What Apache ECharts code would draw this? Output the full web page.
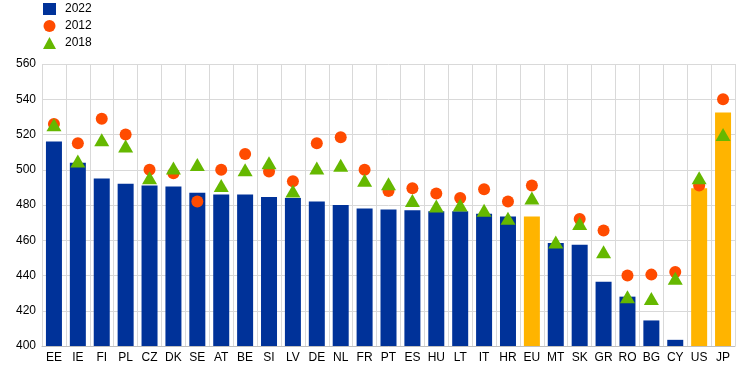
<!DOCTYPE html>
<html><head><meta charset="utf-8">
<script src="https://cdn.jsdelivr.net/npm/echarts@6/dist/echarts.min.js"></script>
<style>html,body{margin:0;padding:0;background:#fff}#c{width:744px;height:373px}</style>
</head><body><div id="c"></div>
<script>
var categories = ['EE','IE','FI','PL','CZ','DK','SE','AT','BE','SI','LV','DE','NL','FR','PT','ES','HU','LT','IT','HR','EU','MT','SK','GR','RO','BG','CY','US','JP'];
var v2022 = [516,504,495,492,491,490.5,487,486,486,484.5,484,482,480,478,477.5,477,476.5,476.5,475,473.5,473.5,458.5,457.5,436.5,428,414.5,403.5,489.5,532.5];
var v2012 = [526,515,529,520,500,498,482,500,509,499,493.5,515,518.5,500,488,489.5,486.5,484,489,482,491,null,472,465.5,440,440.5,442,491,540];
var v2018 = [525.5,505,517,513.5,495.5,501,503,491,500,504,488,501,502.5,494,492,482.5,479.5,480,477,472.5,484,459,469.5,453.5,428,427,438.5,495.5,520];
var highlight = ['EU','US','JP'];
var yTicks = {min:400, max:560, interval:20};

var blue='#003299', orange='#FF4B00', green='#65B800', yellow='#FFB400';
var barData = v2022.map(function(v,i){
  return {value:v, itemStyle:{color: highlight.indexOf(categories[i])>=0 ? yellow : blue}};
});
var chart = echarts.init(document.getElementById('c'), null, {renderer:'canvas'});
var font = 'Arial, "Liberation Sans", sans-serif';
chart.setOption({
  animation:false,
  textStyle:{fontFamily:font},
  legend:{
    orient:'vertical', left:38, top:-2, itemGap:5, itemWidth:13, itemHeight:12,
    textStyle:{fontSize:12, color:'#000', fontFamily:font, padding:[0,0,0,4]},
    data:[{name:'2022', icon:'rect'},{name:'2012', icon:'circle'},{name:'2018', icon:'triangle'}]
  },
  grid:{left:42, right:9, top:64, bottom:27},
  xAxis:{
    type:'category', data:categories, boundaryGap:true,
    axisLine:{lineStyle:{color:'#bfbfbf'}},
    axisTick:{show:false},
    axisLabel:{color:'#000', fontSize:12, fontFamily:font, interval:0, margin:6},
    splitLine:{show:true, interval:0, lineStyle:{color:'#d9d9d9'}}
  },
  yAxis:{
    type:'value', min:yTicks.min, max:yTicks.max, interval:yTicks.interval,
    axisLine:{show:false}, axisTick:{show:false},
    axisLabel:{color:'#000', fontSize:12, fontFamily:font, margin:6},
    splitLine:{lineStyle:{color:'#d9d9d9'}}
  },
  series:[
    {name:'2022', type:'bar', data:barData, barWidth:16, itemStyle:{color:blue}, z:2},
    {name:'2012', type:'scatter', data:v2012, symbol:'circle', symbolSize:12, itemStyle:{color:orange, opacity:1}, z:3},
    {name:'2018', type:'scatter', data:v2018, symbol:'triangle', symbolSize:[15,13], itemStyle:{color:green, opacity:1}, z:4}
  ]
});
</script></body></html>
